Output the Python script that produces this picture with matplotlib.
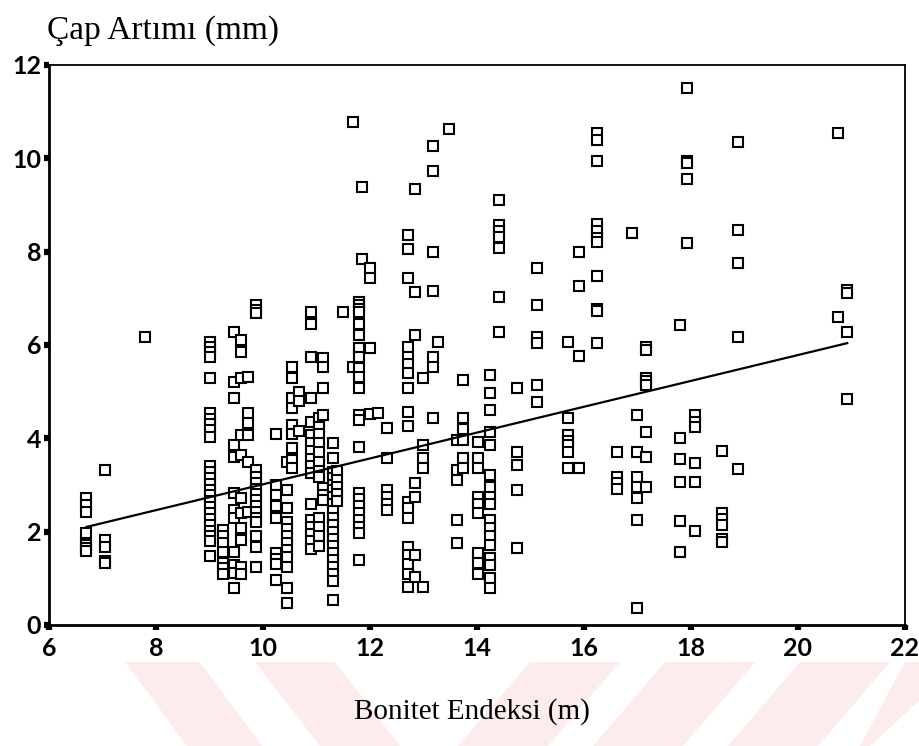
import matplotlib
matplotlib.use("Agg")
import matplotlib.pyplot as plt
from matplotlib.patches import Polygon
import numpy as np

# ---- data: columns of site index (x) with diameter increment values (y) ----
columns = [
    (6.7,  [2.72, 2.58, 2.43, 1.97, 1.72, 1.65, 1.58]),
    (7.05, [3.32, 1.82, 1.68, 1.38, 1.33]),
    (7.8,  [6.18]),
    (9.0,  [6.06, 5.95, 5.85, 5.74, 5.3, 4.54, 4.42, 4.3, 4.17, 4.03, 3.4, 3.28, 3.15,
            3.02, 2.9, 2.78, 2.65, 2.52, 2.4, 2.27, 2.15, 2.02, 1.9, 1.8, 1.48]),
    (9.25, [2.04, 1.9, 1.76, 1.56, 1.33, 1.22, 1.1]),
    (9.45, [6.28, 5.2, 4.86, 3.86, 3.6, 2.83, 2.46, 2.3, 1.56, 1.29, 1.11, 0.79]),
    (9.58, [6.1, 5.85, 5.3, 4.07, 3.64, 2.72, 2.4, 2.08, 1.82, 1.25, 1.1]),
    (9.72, [5.32, 4.54, 4.33, 4.07, 3.5, 2.42]),
    (9.87, [6.86, 6.76, 6.68, 3.32, 3.18, 3.05, 2.92, 2.8, 2.68, 2.55, 2.42, 2.3, 2.2,
            1.9, 1.68, 1.25]),
    (10.25, [4.1, 3.0, 2.78, 2.55, 2.3, 1.55, 1.42, 1.3, 0.96]),
    (10.45, [3.5, 2.9, 2.5, 2.2, 2.05, 1.9, 1.75, 1.6, 1.45, 1.25, 0.8, 0.48]),
    (10.55, [5.53, 5.3, 4.86, 4.65, 4.28, 4.1, 3.8, 3.53, 3.36]),
    (10.68, [5.0, 4.8, 4.15]),
    (10.9, [6.7, 6.44, 5.74, 4.86, 4.35, 4.07, 3.9, 3.73, 3.55, 3.4, 3.25, 2.6, 2.25,
            2.1, 1.95, 1.8, 1.62]),
    (11.05, [4.44, 4.24, 4.1, 3.9, 3.7, 3.5, 3.3, 3.17, 2.3, 2.1, 1.9, 1.7]),
    (11.12, [5.72, 5.53, 5.07, 4.5, 2.93, 2.78, 2.68]),
    (11.3, [3.9, 3.58, 3.28, 3.15, 3.0, 2.9, 2.75, 2.6, 2.45, 2.3, 2.15, 2.0, 1.85,
            1.7, 1.55, 1.4, 1.25, 1.1, 0.95, 0.53]),
    (11.38, [3.3, 3.1, 2.95, 2.8, 2.65]),
    (11.5, [6.7]),
    (11.68, [10.78, 5.53]),
    (11.8, [6.92, 6.86, 6.78, 6.7, 6.45, 6.21, 5.93, 5.74, 5.5, 5.32, 5.07, 4.5, 4.4,
            3.82, 2.83, 2.7, 2.55, 2.4, 2.25, 2.1, 1.97, 1.4]),
    (11.85, [9.38, 7.84]),
    (12.0, [7.65, 7.44, 5.93, 4.52]),
    (12.15, [4.54]),
    (12.32, [4.22, 3.58, 2.89, 2.75, 2.6, 2.46]),
    (12.71, [8.36, 8.06, 7.44, 5.95, 5.74, 5.6, 5.4, 5.07, 4.56, 4.26, 2.64, 2.5, 2.3,
             1.67, 1.5, 1.3, 1.1, 0.82]),
    (12.84, [9.34, 7.14, 6.21, 3.04, 2.75, 1.5, 1.03]),
    (13.0, [5.3, 3.86, 3.58, 3.36, 0.82]),
    (13.18, [10.26, 9.73, 8.0, 7.16, 5.74, 5.53, 4.44]),
    (13.27, [6.06]),
    (13.48, [10.63]),
    (13.63, [3.96, 3.32, 3.1, 2.25, 1.76]),
    (13.74, [5.25, 4.44, 4.2, 3.96, 3.58, 3.36]),
    (14.02, [3.92, 3.58, 3.36, 2.75, 2.6, 2.4, 1.55, 1.33, 1.1]),
    (14.24, [5.36, 4.97, 4.6, 4.14, 3.86, 3.21, 2.96, 2.75, 2.6, 2.25, 2.08, 1.9, 1.71,
             1.43, 1.29, 1.0, 0.79]),
    (14.42, [9.1, 8.57, 8.45, 8.32, 8.08, 7.03, 6.28]),
    (14.75, [5.07, 3.7, 3.43, 2.89, 1.65]),
    (15.12, [7.65, 6.86, 6.17, 6.05, 5.14, 4.78]),
    (15.7, [6.06, 4.44, 4.07, 3.95, 3.85, 3.7, 3.36]),
    (15.9, [8.0, 7.26, 5.76, 3.36]),
    (16.24, [10.54, 10.4, 9.94, 8.6, 8.45, 8.3, 8.2, 7.48, 6.78, 6.72, 6.04]),
    (16.62, [3.7, 3.17, 3.05, 2.92]),
    (16.9, [8.4]),
    (17.0, [4.5, 3.7, 3.17, 2.96, 2.72, 2.25, 0.36]),
    (17.15, [5.96, 5.9, 5.3, 5.22, 5.15, 4.14, 3.6, 2.96]),
    (17.8, [6.43, 4.0, 3.56, 3.06, 2.23, 1.56]),
    (17.92, [11.5, 9.95, 9.9, 9.55, 8.18]),
    (18.08, [4.5, 4.35, 4.24, 3.47, 3.06, 2.01]),
    (18.58, [3.73, 2.4, 2.28, 2.14, 1.84, 1.78]),
    (18.88, [10.35, 8.46, 7.75, 6.17, 3.34]),
    (20.75, [10.54, 6.6]),
    (20.92, [7.18, 7.12, 6.28, 4.84]),
]

fit_intercept = 0.245
fit_slope = 0.277
fit_x_range = [6.7, 20.92]

x_ticks = [6, 8, 10, 12, 14, 16, 18, 20, 22]
y_ticks = [0, 2, 4, 6, 8, 10, 12]
title_text = "Çap Artımı (mm)"
xlabel_text = "Bonitet Endeksi (m)"

x_vals = np.concatenate([[cx] * len(ys) for cx, ys in columns])
y_vals = np.concatenate([ys for cx, ys in columns])

# ---- figure ----
W, H = 920, 746
fig = plt.figure(figsize=(W / 100, H / 100), dpi=100)
fig.patch.set_facecolor("white")

# faint pink watermark stripes at the bottom (decoration)
wm_color = "#fcecec"
stripes = [
    [(125, 662), (200, 662), (262, 746), (187, 746)],
    [(255, 662), (335, 662), (400, 746), (320, 746)],
    [(530, 662), (620, 662), (548, 746), (458, 746)],
    [(665, 662), (755, 662), (683, 746), (593, 746)],
    [(800, 662), (890, 662), (818, 746), (728, 746)],
    [(905, 662), (920, 662), (920, 700), (870, 746), (860, 746)],
]
for s in stripes:
    pts = [(px / W, 1 - py / H) for px, py in s]
    fig.patches.append(Polygon(pts, closed=True, transform=fig.transFigure,
                               facecolor=wm_color, edgecolor="none", zorder=-5))

ax = fig.add_axes([49 / W, 1 - 625 / H, (905 - 49) / W, (625 - 65) / H])
ax.set_facecolor("none")
ax.set_zorder(2)

ax.plot(x_vals, y_vals, linestyle="none", marker="s", markersize=6.7,
        markerfacecolor="white", markeredgecolor="black", markeredgewidth=1.5,
        zorder=3)

fx = np.array(fit_x_range)
ax.plot(fx, fit_intercept + fit_slope * fx, color="black", lw=1.6, zorder=4)

ax.set_xlim(6, 22)
ax.set_ylim(0, 12)
ax.set_xticks(x_ticks)
ax.set_yticks(y_ticks)
tick_font = dict(family=["Lato", "DejaVu Sans"], size=18, weight="bold")
ax.set_xticklabels([str(t) for t in x_ticks], fontdict=tick_font)
ax.set_yticklabels([str(t) for t in y_ticks], fontdict=tick_font)
ax.tick_params(axis="both", direction="out", length=3.5, width=4.5, color="black")
ax.tick_params(axis="x", pad=5)
ax.tick_params(axis="y", pad=2)

for side in ["left", "bottom"]:
    ax.spines[side].set_linewidth(2.0)
for side in ["top", "right"]:
    ax.spines[side].set_linewidth(1.3)

fig.text(47 / W, 1 - 31 / H, title_text, family=["Liberation Serif", "DejaVu Serif"],
         fontsize=24, ha="left", va="center")
fig.text(472 / W, 1 - 712 / H, xlabel_text, family=["Liberation Serif", "DejaVu Serif"],
         fontsize=21, ha="center", va="center")

fig.savefig("out.png", dpi=100, facecolor="white")
